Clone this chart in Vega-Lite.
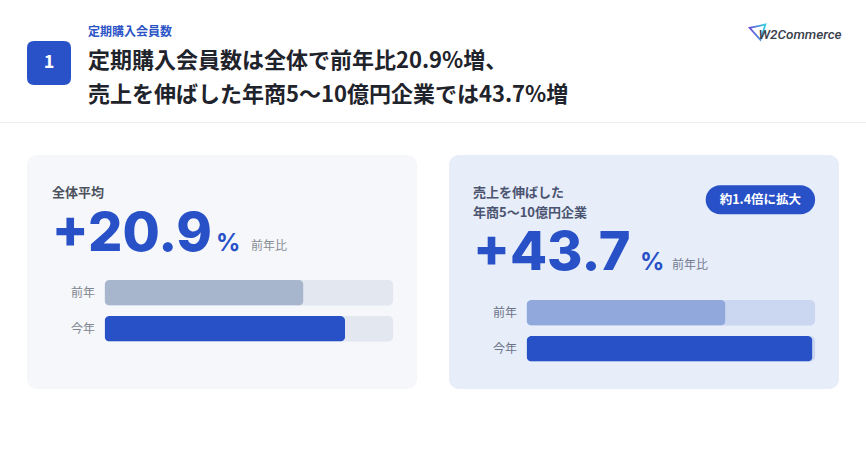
{
  "$schema": "https://vega.github.io/schema/vega-lite/v6.json",
  "padding": {"top": 20, "left": 0, "right": 0, "bottom": 0},
  "background": "#ffffff",
  "config": {
    "font": "Noto Sans CJK JP",
    "view": {"stroke": null},
    "axis": {"domain": false, "ticks": false, "grid": false, "title": null}
  },
  "bounds": "flush",
  "spacing": 100,
  "vconcat": [
    {
      "bounds": "flush",
      "spacing": 17,
      "hconcat": [
        {"width": 10, "height": 1, "mark": "rect", "data": {"values": []}},
        {
          "width": 44, "height": 82,
          "data": {"values": [{"step": "1"}]},
          "layer": [
            {
              "mark": {"type": "point", "shape": "M-0.68,-1 L0.68,-1 Q1,-1 1,-0.68 L1,0.68 Q1,1 0.68,1 L-0.68,1 Q-1,1 -1,0.68 L-1,-0.68 Q-1,-1 -0.68,-1 Z", "size": 1936, "filled": true, "fill": "#2a52c8", "strokeWidth": 0, "opacity": 1},
              "encoding": {}
            },
            {
              "mark": {"type": "text", "color": "#ffffff", "fontSize": 18, "fontWeight": "bold", "font": "Noto Sans CJK JP", "baseline": "middle", "align": "center"},
              "encoding": {"text": {"field": "step", "type": "nominal"}}
            }
          ]
        },
        {
          "width": 643, "height": 1,
          "mark": "rect", "data": {"values": []},
          "title": {
            "text": "定期購入会員数",
            "subtitle": ["定期購入会員数は全体で前年比20.9%増、", "売上を伸ばした年商5〜10億円企業では43.7%増"],
            "orient": "bottom", "anchor": "start", "frame": "group", "offset": 4,
            "font": "Noto Sans CJK JP", "fontSize": 12, "fontWeight": "bold", "color": "#2d54c6",
            "subtitleFont": "Noto Sans CJK JP", "subtitleFontSize": 22, "subtitleFontWeight": "bold",
            "subtitleColor": "#1f232b", "subtitleLineHeight": 34, "subtitlePadding": 12
          }
        },
        {
          "width": 92, "height": 22,
          "data": {"values": [{"brand": "W2Commerce"}]},
          "layer": [
            {
              "mark": {"type": "point", "shape": "triangle-down", "size": 260, "filled": false, "strokeWidth": 1.8, "angle": -12, "xOffset": -35, "opacity": 1,
                "stroke": {"gradient": "linear", "stops": [{"offset": 0, "color": "#6a4fd8"}, {"offset": 1, "color": "#35d0e6"}]}},
              "encoding": {}
            },
            {
              "mark": {"type": "text", "fontSize": 13.5, "fontStyle": "italic", "fontWeight": 500, "color": "#3a404c", "font": "Roboto", "dx": 6, "dy": 2},
              "encoding": {"text": {"field": "brand", "type": "nominal"}}
            }
          ]
        }
      ]
    },
    {
      "bounds": "flush",
      "spacing": 32,
      "vconcat": [
        {"width": 866, "height": 1, "view": {"fill": "#ececec", "stroke": null}, "mark": "rect", "data": {"values": []}},
        {
          "bounds": "flush",
          "spacing": 26,
          "hconcat": [
            {"width": 1, "height": 1, "mark": "rect", "data": {"values": []}},
            {
              "bounds": "flush",
              "spacing": 32,
              "resolve": {"scale": {"x": "independent", "y": "independent"}},
              "hconcat": [
                {
                  "width": 390, "height": 234,
                  "view": {"fill": "#f5f7fb", "cornerRadius": 10, "stroke": null},
                  "title": {"text": "全体平均", "anchor": "start", "frame": "group", "dx": 25, "offset": -45, "fontSize": 13, "fontWeight": "bold", "color": "#4d525c", "font": "Noto Sans CJK JP"},
                  "data": {"values": [
                    {"segment": "全体平均", "year": "前年", "value": 100},
                    {"segment": "全体平均", "year": "今年", "value": 120.9}
                  ]},
                  "layer": [
                    {
                      "mark": {"type": "bar", "color": "#e2e7f0", "cornerRadius": 5},
                      "encoding": {
                        "y": {"field": "year", "type": "nominal",
                          "scale": {"domain": ["top", "head", "num", "前年", "今年"], "paddingInner": 0.2917, "paddingOuter": 0.8958, "align": 0.2636},
                          "axis": {"values": ["前年", "今年"], "offset": -77.6, "labelPadding": 10, "labelFontSize": 12, "labelColor": "#80858f", "labelFont": "Noto Sans CJK JP"}},
                        "x": {"datum": 0, "type": "quantitative", "scale": {"domain": [-39, 157], "nice": false, "zero": false}, "axis": null},
                        "x2": {"datum": 145}
                      }
                    },
                    {
                      "mark": {"type": "bar", "cornerRadius": 5},
                      "encoding": {
                        "y": {"field": "year", "type": "nominal"},
                        "x": {"field": "value", "type": "quantitative"},
                        "color": {"condition": {"test": "datum.year === '前年'", "value": "#a8b6cd"}, "value": "#2851c8"}
                      }
                    },
                    {
                      "data": {"values": [{"change": 20.9}]},
                      "mark": {"type": "text", "align": "left", "baseline": "alphabetic", "dy": -6, "font": "Inter", "fontSize": 54, "fontWeight": 800, "color": "#2851c8"},
                      "encoding": {
                        "y": {"datum": "num", "type": "nominal"},
                        "x": {"datum": -26.5, "type": "quantitative"},
                        "text": {"field": "change", "type": "quantitative", "format": "+.1f"}
                      }
                    },
                    {
                      "data": {"values": [{"unit": "%"}]},
                      "mark": {"type": "text", "align": "left", "baseline": "alphabetic", "dy": -6, "font": "Inter", "fontSize": 24, "fontWeight": 700, "color": "#2851c8"},
                      "encoding": {
                        "y": {"datum": "num", "type": "nominal"},
                        "x": {"datum": 56, "type": "quantitative"},
                        "text": {"field": "unit", "type": "nominal"}
                      }
                    },
                    {
                      "data": {"values": [{"note": "前年比"}]},
                      "mark": {"type": "text", "align": "left", "baseline": "alphabetic", "dy": -7, "fontSize": 12, "color": "#888c94"},
                      "encoding": {
                        "y": {"datum": "num", "type": "nominal"},
                        "x": {"datum": 73.6, "type": "quantitative"},
                        "text": {"field": "note", "type": "nominal"}
                      }
                    }
                  ]
                },
                {
                  "width": 390, "height": 234,
                  "view": {"fill": "#e7edf9", "cornerRadius": 10, "stroke": null},
                  "title": {"text": ["売上を伸ばした", "年商5〜10億円企業"], "lineHeight": 20, "anchor": "start", "frame": "group", "dx": 24, "offset": -65, "fontSize": 13, "fontWeight": "bold", "color": "#4b5470", "font": "Noto Sans CJK JP"},
                  "data": {"values": [
                    {"segment": "売上を伸ばした年商5〜10億円企業", "year": "前年", "value": 100},
                    {"segment": "売上を伸ばした年商5〜10億円企業", "year": "今年", "value": 143.7}
                  ]},
                  "layer": [
                    {
                      "mark": {"type": "bar", "color": "#cbd7f0", "cornerRadius": 5},
                      "encoding": {
                        "y": {"field": "year", "type": "nominal",
                          "scale": {"domain": ["badge", "gap", "num", "前年", "今年"], "paddingInner": 0.2917, "paddingOuter": 0.8958, "align": 0.5736},
                          "axis": {"values": ["前年", "今年"], "offset": -77.6, "labelPadding": 10, "labelFontSize": 12, "labelColor": "#6b7388", "labelFont": "Noto Sans CJK JP"}},
                        "x": {"datum": 0, "type": "quantitative", "scale": {"domain": [-39, 157], "nice": false, "zero": false}, "axis": null},
                        "x2": {"datum": 145}
                      }
                    },
                    {
                      "mark": {"type": "bar", "cornerRadius": 5},
                      "encoding": {
                        "y": {"field": "year", "type": "nominal"},
                        "x": {"field": "value", "type": "quantitative"},
                        "color": {"condition": {"test": "datum.year === '前年'", "value": "#91a8dc"}, "value": "#2851c8"}
                      }
                    },
                    {
                      "data": {"values": [{"badge": "約1.4倍に拡大", "ratio": 1.437}]},
                      "mark": {"type": "bar", "color": "#2851c8", "cornerRadius": 14.5, "height": 29, "yOffset": -5},
                      "encoding": {
                        "y": {"datum": "badge", "type": "nominal"},
                        "x": {"datum": 90, "type": "quantitative"},
                        "x2": {"datum": 145}
                      }
                    },
                    {
                      "data": {"values": [{"badge": "約1.4倍に拡大", "ratio": 1.437}]},
                      "mark": {"type": "text", "align": "center", "baseline": "middle", "dy": -5, "fontSize": 12.5, "fontWeight": "bold", "color": "#ffffff"},
                      "encoding": {
                        "y": {"datum": "badge", "type": "nominal"},
                        "x": {"datum": 117.5, "type": "quantitative"},
                        "text": {"field": "badge", "type": "nominal"}
                      }
                    },
                    {
                      "data": {"values": [{"change": 43.7}]},
                      "mark": {"type": "text", "align": "left", "baseline": "alphabetic", "dy": -7, "font": "Inter", "fontSize": 54, "fontWeight": 800, "color": "#2851c8"},
                      "encoding": {
                        "y": {"datum": "num", "type": "nominal"},
                        "x": {"datum": -27, "type": "quantitative"},
                        "text": {"field": "change", "type": "quantitative", "format": "+.1f"}
                      }
                    },
                    {
                      "data": {"values": [{"unit": "%"}]},
                      "mark": {"type": "text", "align": "left", "baseline": "alphabetic", "dy": -7, "font": "Inter", "fontSize": 24, "fontWeight": 700, "color": "#2851c8"},
                      "encoding": {
                        "y": {"datum": "num", "type": "nominal"},
                        "x": {"datum": 57, "type": "quantitative"},
                        "text": {"field": "unit", "type": "nominal"}
                      }
                    },
                    {
                      "data": {"values": [{"note": "前年比"}]},
                      "mark": {"type": "text", "align": "left", "baseline": "alphabetic", "dy": -8, "fontSize": 12, "color": "#737b90"},
                      "encoding": {
                        "y": {"datum": "num", "type": "nominal"},
                        "x": {"datum": 73.1, "type": "quantitative"},
                        "text": {"field": "note", "type": "nominal"}
                      }
                    }
                  ]
                }
              ]
            }
          ]
        }
      ]
    }
  ]
}
